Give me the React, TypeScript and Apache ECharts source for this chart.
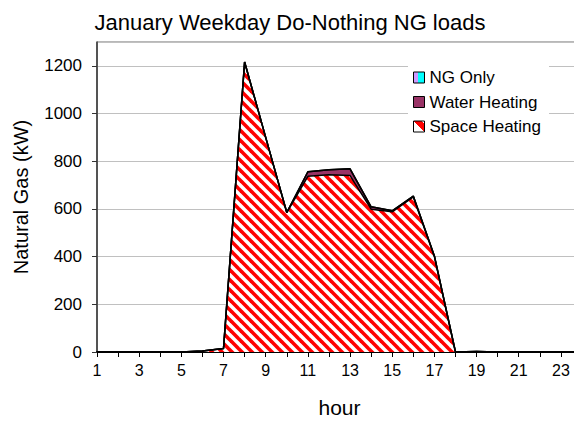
import React, { useEffect, useRef } from "react";
import * as echarts from "echarts";

const hours = ["1","2","3","4","5","6","7","8","9","10","11","12","13","14","15","16","17","18","19","20","21","22","23","24"];
const spaceHeating = [0,0,0,0,0,4,15,1216,900,585,737,743,740,599,588,650,400,0,2,0,0,0,0,0];
const waterHeating = [0,0,0,0,0,0,0,0,0,0,19,21,28,10,4,4,3,0,0,0,0,0,0,0];
const ngOnly = [0,0,0,0,0,0,0,0,0,0,0,0,0,0,0,0,0,0,0,0,0,0,0,0];
const yTicks = [0,200,400,600,800,1000,1200];

function makeStripes(): HTMLCanvasElement {
  const c = document.createElement("canvas");
  c.width = 10;
  c.height = 10;
  const ctx = c.getContext("2d")!;
  ctx.fillStyle = "#ffffff";
  ctx.fillRect(0, 0, 10, 10);
  ctx.strokeStyle = "#ff0000";
  ctx.lineWidth = 3.6;
  for (let k = -2; k <= 2; k++) {
    ctx.beginPath();
    ctx.moveTo(-10, -10 + 10 * k);
    ctx.lineTo(20, 20 + 10 * k);
    ctx.stroke();
  }
  return c;
}

export default function App() {
  const ref = useRef<HTMLDivElement>(null);
  useEffect(() => {
    const chart = echarts.init(ref.current!, null, { renderer: "svg" });
    const stripes = makeStripes();
    const pattern: any = { image: stripes, repeat: "repeat", imageWidth: 10, imageHeight: 10 };
    const font = "'Liberation Sans', Arial, sans-serif";
    chart.setOption({
      animation: false,
      title: {
        text: "January Weekday Do-Nothing NG loads",
        left: 285,
        top: 6,
        textAlign: "center",
        textStyle: { fontFamily: font, fontSize: 22, fontWeight: "normal", color: "#000" },
      },
      grid: { left: 97, top: 42, right: 0, bottom: 67, show: true, borderColor: "#707070", borderWidth: 1 },
      legend: {
        orient: "vertical",
        left: 408,
        top: 61,
        backgroundColor: "#ffffff",
        padding: [8, 8, 8, 5],
        itemGap: 7.5,
        itemWidth: 11,
        itemHeight: 11,
        icon: "rect",
        textStyle: { fontFamily: font, fontSize: 17, color: "#000" },
        data: [
          {
            name: "NG Only",
            itemStyle: {
              color: { type: "linear", x: 0, y: 0, x2: 1, y2: 0, colorStops: [
                { offset: 0, color: "#cc99ff" }, { offset: 0.4, color: "#cc99ff" },
                { offset: 0.4, color: "#00ffff" }, { offset: 1, color: "#00ffff" }] },
              borderColor: "#000", borderWidth: 1,
            },
          },
          { name: "Water Heating", itemStyle: { color: "#993366", borderColor: "#000", borderWidth: 1 } },
          {
            name: "Space Heating",
            itemStyle: {
              color: { type: "linear", x: 0, y: 1, x2: 1, y2: 0, colorStops: [
                { offset: 0, color: "#ffffff" }, { offset: 0.5, color: "#ffffff" },
                { offset: 0.5, color: "#ff0000" }, { offset: 0.85, color: "#ff0000" },
                { offset: 0.85, color: "#ffffff" }, { offset: 1, color: "#ffffff" }] },
              borderColor: "#000", borderWidth: 1,
            },
          },
        ],
      },
      xAxis: {
        type: "category",
        data: hours,
        boundaryGap: false,
        name: "hour",
        nameLocation: "middle",
        nameGap: 45,
        nameTextStyle: { fontFamily: font, fontSize: 21, color: "#000" },
        axisLine: { lineStyle: { color: "#000", width: 2 } },
        axisTick: { show: true, interval: 0, length: 5, lineStyle: { color: "#000" } },
        axisLabel: { interval: 1, margin: 10, fontFamily: font, fontSize: 16, color: "#000" },
        splitLine: { show: false },
      },
      yAxis: {
        type: "value",
        min: 0,
        max: 1300,
        interval: 200,
        name: "Natural Gas (kW)",
        nameLocation: "middle",
        nameGap: 66,
        nameTextStyle: { fontFamily: font, fontSize: 20, color: "#000" },
        axisLine: { show: true, lineStyle: { color: "#333", width: 1.5 } },
        axisTick: { show: true, length: 5, lineStyle: { color: "#333" } },
        axisLabel: {
          margin: 15, fontFamily: font, fontSize: 17, color: "#000", showMaxLabel: false,
          formatter: (v: number) => (yTicks.indexOf(v) >= 0 ? String(v) : ""),
        },
        splitLine: { show: true, lineStyle: { color: "#c0c0c0", width: 1 } },
      },
      series: [
        {
          name: "Space Heating",
          type: "line",
          stack: "total",
          data: spaceHeating,
          symbol: "none",
          lineStyle: { color: "#000", width: 1.5 },
          itemStyle: { color: "#ff0000" },
          areaStyle: { color: pattern, opacity: 1 },
        },
        {
          name: "Water Heating",
          type: "line",
          stack: "total",
          data: waterHeating,
          symbol: "none",
          lineStyle: { color: "#000", width: 1.5 },
          itemStyle: { color: "#993366" },
          areaStyle: { color: "#993366", opacity: 1 },
        },
        {
          name: "NG Only",
          type: "line",
          stack: "total",
          data: ngOnly,
          symbol: "none",
          lineStyle: { color: "#000", width: 1.5 },
          itemStyle: { color: "#00ffff" },
          areaStyle: { color: "#00ffff", opacity: 1 },
        },
      ],
    });
    return () => chart.dispose();
  }, []);
  return <div ref={ref} style={{ width: 582, height: 423, margin: -8 }} />;
}
